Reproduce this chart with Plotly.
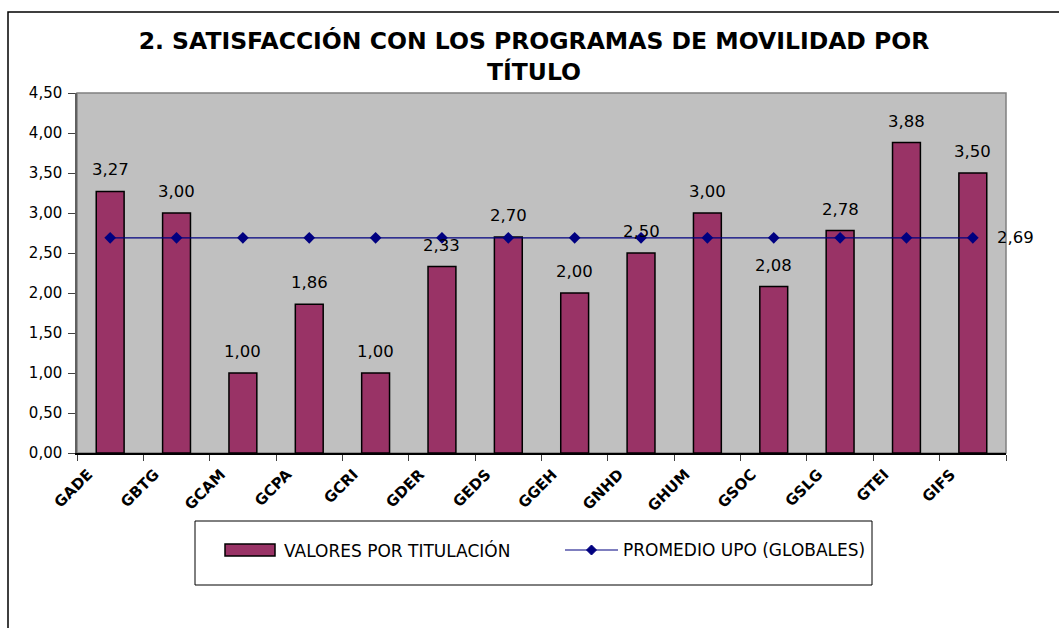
import plotly.graph_objects as go

categories = ["GADE", "GBTG", "GCAM", "GCPA", "GCRI", "GDER", "GEDS", "GGEH",
              "GNHD", "GHUM", "GSOC", "GSLG", "GTEI", "GIFS"]
valores = [3.27, 3.00, 1.00, 1.86, 1.00, 2.33, 2.70, 2.00, 2.50, 3.00, 2.08, 2.78, 3.88, 3.50]
promedio_valor = 2.69
promedio = [promedio_valor] * len(categories)
y_ticks = [0, 0.5, 1.0, 1.5, 2.0, 2.5, 3.0, 3.5, 4.0, 4.5]
serie_barras = "VALORES POR TITULACIÓN"
serie_linea = "PROMEDIO UPO (GLOBALES)"

W, H = 1059, 628
L, R, T, B = 77, 1006, 93, 453
pw, ph = R - L, B - T

def px(x):
    return (x - L) / pw

def py(y):
    return (B - y) / ph

FONT = "DejaVu Sans, Verdana, sans-serif"
BAR_COLOR = "#993366"
LINE_COLOR = "#000080"

def fmt(v):
    return f"{v:.2f}".replace(".", ",")

fig = go.Figure()
fig.add_trace(go.Bar(
    x=categories, y=valores, name=serie_barras,
    marker=dict(color=BAR_COLOR, line=dict(color="black", width=1.5)),
    showlegend=False,
))
fig.add_trace(go.Scatter(
    x=categories, y=promedio, name=serie_linea,
    mode="lines+markers",
    line=dict(color=LINE_COLOR, width=1.2),
    marker=dict(symbol="diamond", size=9, color=LINE_COLOR),
    cliponaxis=False, showlegend=False,
))

annotations = []
for c, v in zip(categories, valores):
    annotations.append(dict(x=c, y=v, xref="x", yref="y", text=fmt(v), showarrow=False,
                            xanchor="center", yanchor="bottom", yshift=10,
                            font=dict(family=FONT, size=16.5, color="black")))
annotations.append(dict(x=categories[-1], y=promedio_valor, xref="x", yref="y",
                        text=fmt(promedio_valor), showarrow=False,
                        xanchor="left", yanchor="middle", xshift=22,
                        font=dict(family=FONT, size=16.5, color="black")))
# manual legend texts
annotations.append(dict(x=px(282), y=py(550), xref="paper", yref="paper", text=serie_barras,
                        showarrow=False, xanchor="left", yanchor="middle",
                        font=dict(family=FONT, size=17, color="black")))
annotations.append(dict(x=px(621), y=py(550), xref="paper", yref="paper", text=serie_linea,
                        showarrow=False, xanchor="left", yanchor="middle",
                        font=dict(family=FONT, size=17, color="black")))

dx, dyc, d = 591.5, 550, 5
diamond = (f"M {px(dx)},{py(dyc - d)} L {px(dx + d)},{py(dyc)} "
           f"L {px(dx)},{py(dyc + d)} L {px(dx - d)},{py(dyc)} Z")

shapes = [
    # plot area border
    dict(type="rect", xref="paper", yref="paper", x0=0, x1=1, y0=0, y1=1,
         line=dict(color="#808080", width=1.5), layer="below"),
    # legend box
    dict(type="rect", xref="paper", yref="paper", x0=px(195), x1=px(872),
         y0=py(585), y1=py(521), line=dict(color="black", width=1)),
    # legend bar swatch
    dict(type="rect", xref="paper", yref="paper", x0=px(225), x1=px(275),
         y0=py(556), y1=py(544), fillcolor=BAR_COLOR, line=dict(color="black", width=1.5)),
    # legend line
    dict(type="line", xref="paper", yref="paper", x0=px(565), x1=px(618),
         y0=py(550), y1=py(550), line=dict(color=LINE_COLOR, width=1.2)),
    # legend diamond
    dict(type="path", xref="paper", yref="paper", path=diamond,
         fillcolor=LINE_COLOR, line=dict(color=LINE_COLOR, width=1)),
    # outer frame
    dict(type="rect", xref="paper", yref="paper", x0=px(8), x1=px(1075),
         y0=py(640), y1=py(12), line=dict(color="black", width=1.5)),
]

fig.update_layout(
    width=W, height=H,
    margin=dict(l=L, r=W - R, t=T, b=H - B, autoexpand=False),
    paper_bgcolor="white", plot_bgcolor="#C0C0C0",
    separators=",.",
    bargap=0.58,
    font=dict(family=FONT, color="black"),
    title=dict(text="2. SATISFACCIÓN CON LOS PROGRAMAS DE MOVILIDAD POR<br>TÍTULO",
               x=534 / W, xanchor="center", y=1 - 49 / H, yanchor="top",
               font=dict(family=FONT, size=23.5, color="black", weight="bold")),
    showlegend=False,
    xaxis=dict(type="category", range=[-0.5, len(categories) - 0.5],
               tickson="boundaries", ticks="outside", ticklen=6,
               tickcolor="#404040", tickangle=-45, showline=True, linecolor="black",
               linewidth=1.5, showgrid=False, ticklabelshift=-22, ticklabelstandoff=5,
               tickfont=dict(family=FONT, size=15, color="black", weight="bold")),
    yaxis=dict(range=[0, 4.5], tickvals=y_ticks, tickformat=".2f", ticks="outside",
               ticklen=7, tickcolor="#404040", showline=True, linecolor="#606060",
               linewidth=1.5, showgrid=False, zeroline=False, ticklabelstandoff=3,
               tickfont=dict(family=FONT, size=15, color="black")),
    shapes=shapes,
    annotations=annotations,
)

fig.write_html("out.html", config={"displayModeBar": False},
               post_script="document.body.style.margin='0';document.body.style.padding='0';")
